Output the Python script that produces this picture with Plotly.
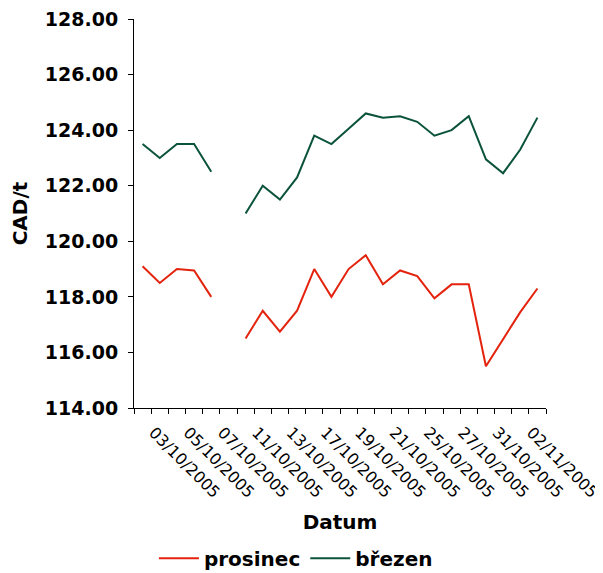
import plotly.graph_objects as go

dates = ["03/10/2005", "04/10/2005", "05/10/2005", "06/10/2005", "07/10/2005",
         "10/10/2005", "11/10/2005", "12/10/2005", "13/10/2005", "14/10/2005",
         "17/10/2005", "18/10/2005", "19/10/2005", "20/10/2005", "21/10/2005",
         "24/10/2005", "25/10/2005", "26/10/2005", "27/10/2005", "28/10/2005",
         "31/10/2005", "01/11/2005", "02/11/2005", "03/11/2005"]

prosinec = [119.1, 118.5, 119.0, 118.95, 118.0,
            None, 116.5, 117.5, 116.75, 117.5,
            119.0, 118.0, 119.0, 119.5, 118.45,
            118.95, 118.75, 117.95, 118.45, 118.45,
            115.5, 116.5, 117.45, 118.3]

brezen = [123.5, 123.0, 123.5, 123.5, 122.5,
          None, 121.0, 122.0, 121.5, 122.3,
          123.8, 123.5, 124.05, 124.6, 124.45,
          124.5, 124.3, 123.8, 124.0, 124.5,
          122.95, 122.45, 123.3, 124.45]

labelled = dates[0::2]
yticks = [114, 116, 118, 120, 122, 124, 126, 128]

x = list(range(1, len(dates) + 1))
# rotated labels sit slightly right of the category centre, as in the original
label_pos = [v + 0.65 for v in x[0::2]]
bounds = [v - 0.5 for v in x] + [x[-1] + 0.5]

fig = go.Figure()
fig.add_trace(go.Scatter(x=x, y=prosinec, name="prosinec", mode="lines",
                         line=dict(color="#e3230d", width=2), connectgaps=False))
fig.add_trace(go.Scatter(x=x, y=brezen, name="březen", mode="lines",
                         line=dict(color="#0b533a", width=2), connectgaps=False))

fig.update_layout(
    width=595, height=565,
    margin=dict(l=126, r=57, t=11, b=165, autoexpand=False),
    paper_bgcolor="white", plot_bgcolor="white",
    font=dict(family="DejaVu Sans", color="black"),
    showlegend=True,
    legend=dict(orientation="h", x=0.393, xanchor="center", y=-0.386, yanchor="middle",
                font=dict(size=20, weight="bold"), itemwidth=40),
)
fig.update_xaxes(
    range=[0.5, len(dates) + 0.5], automargin=False,
    tickmode="array", tickvals=label_pos, ticktext=labelled,
    tickangle=45, ticks="", showgrid=False, zeroline=False,
    showline=True, linecolor="black", linewidth=1,
    tickfont=dict(size=16), ticklabelstandoff=8, ticklabeloverflow="allow",
    minor=dict(tickmode="array", tickvals=bounds, ticks="outside", ticklen=5,
               tickcolor="black", showgrid=False),
    title=dict(text="Datum", font=dict(size=20, weight="bold"), standoff=14),
)
fig.update_yaxes(
    range=[114, 128], tickmode="array", tickvals=yticks, automargin=False,
    tickformat=".2f", ticks="outside", ticklen=5, tickcolor="black",
    showgrid=False, zeroline=False, showline=True, linecolor="black", linewidth=1,
    tickfont=dict(size=19, weight="bold"), ticklabelstandoff=6, ticklabeloverflow="allow",
    title=dict(text="CAD/t", font=dict(size=20, weight="bold"), standoff=14),
)

fig.write_html("out.html")
